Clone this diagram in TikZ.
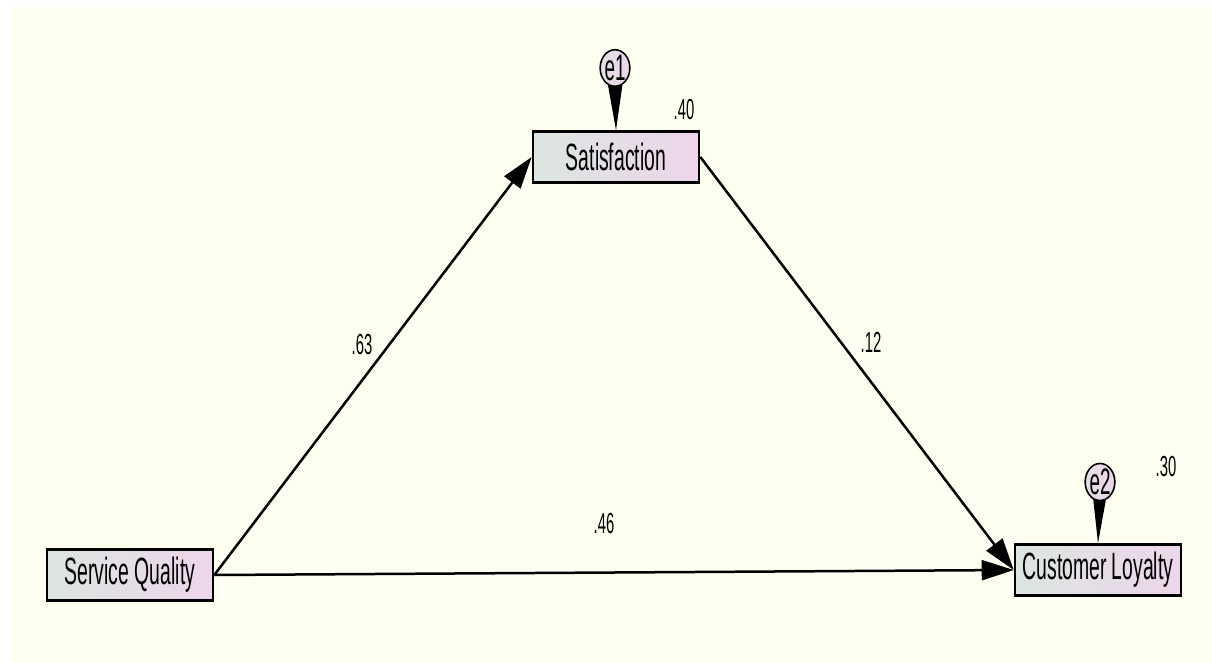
\documentclass[tikz,border=0pt]{standalone}
\usepackage{fontspec}
\setmainfont{Liberation Sans}
\newfontfamily\nar[FakeStretch=0.51]{Liberation Sans}
\usetikzlibrary{arrows.meta,shapes.geometric,calc}
\definecolor{ivory}{HTML}{FEFFF0}
\definecolor{boxL}{HTML}{DCE6E0}
\definecolor{boxR}{HTML}{EDD5EB}
\begin{document}
\begin{tikzpicture}[x=1pt,y=-1pt,
  var/.style={draw=black, line width=2.6pt, left color=boxL, right color=boxR,
    minimum width=166pt, minimum height=51pt, inner sep=0pt,
    font=\nar\fontsize{38}{38}\selectfont},
  err/.style={ellipse, draw=black, line width=1.6pt, left color=boxL!60!boxR, right color=boxR,
    inner sep=0pt, font=\nar\fontsize{37}{37}\selectfont},
  path/.style={line width=2.5pt, -{Triangle[length=32pt,width=20pt]}},
  lbl/.style={inner sep=0pt, font=\nar\fontsize{29}{29}\selectfont},
  tail/.style={fill=black}
]
\useasboundingbox (0,0) rectangle (1212,663);
\fill[white] (0,0) rectangle (1212,663);
\fill[ivory] (12,7) rectangle (1212,663);

\node[var] (sat) at (616,157) {Satisfaction};
\node[var] (sq) at (130,575) {Service Quality};
\node[var] (cl) at (1098,570) {Customer Loyalty};

\coordinate (e1c) at (615,68);
\coordinate (e2c) at (1100,482);
\fill[tail] ($(e1c)+(-9,6)$) -- ($(e1c)+(9,6)$) -- (sat.north) -- cycle;
\fill[tail] ($(e2c)+(-8,6)$) -- ($(e2c)+(8,6)$) -- (cl.north) -- cycle;
\node[err, minimum width=24pt, minimum height=31pt] (e1) at (e1c) {e1};
\node[err, minimum width=21pt, minimum height=31pt] (e2) at (e2c) {e2};

\draw[path] (sq.east) -- (sat.west);
\draw[path] (sat.east) -- (cl.west);
\draw[path] (sq.east) -- (cl.west);

\node[lbl] (l63) at (362,345) {.63};
\node[lbl] (l12) at (871,342) {.12};
\node[lbl] (l46) at (604,524) {.46};
\node[lbl] (l40) at (684,110) {.40};
\node[lbl] (l30) at (1166,467) {.30};
\end{tikzpicture}
\end{document}
